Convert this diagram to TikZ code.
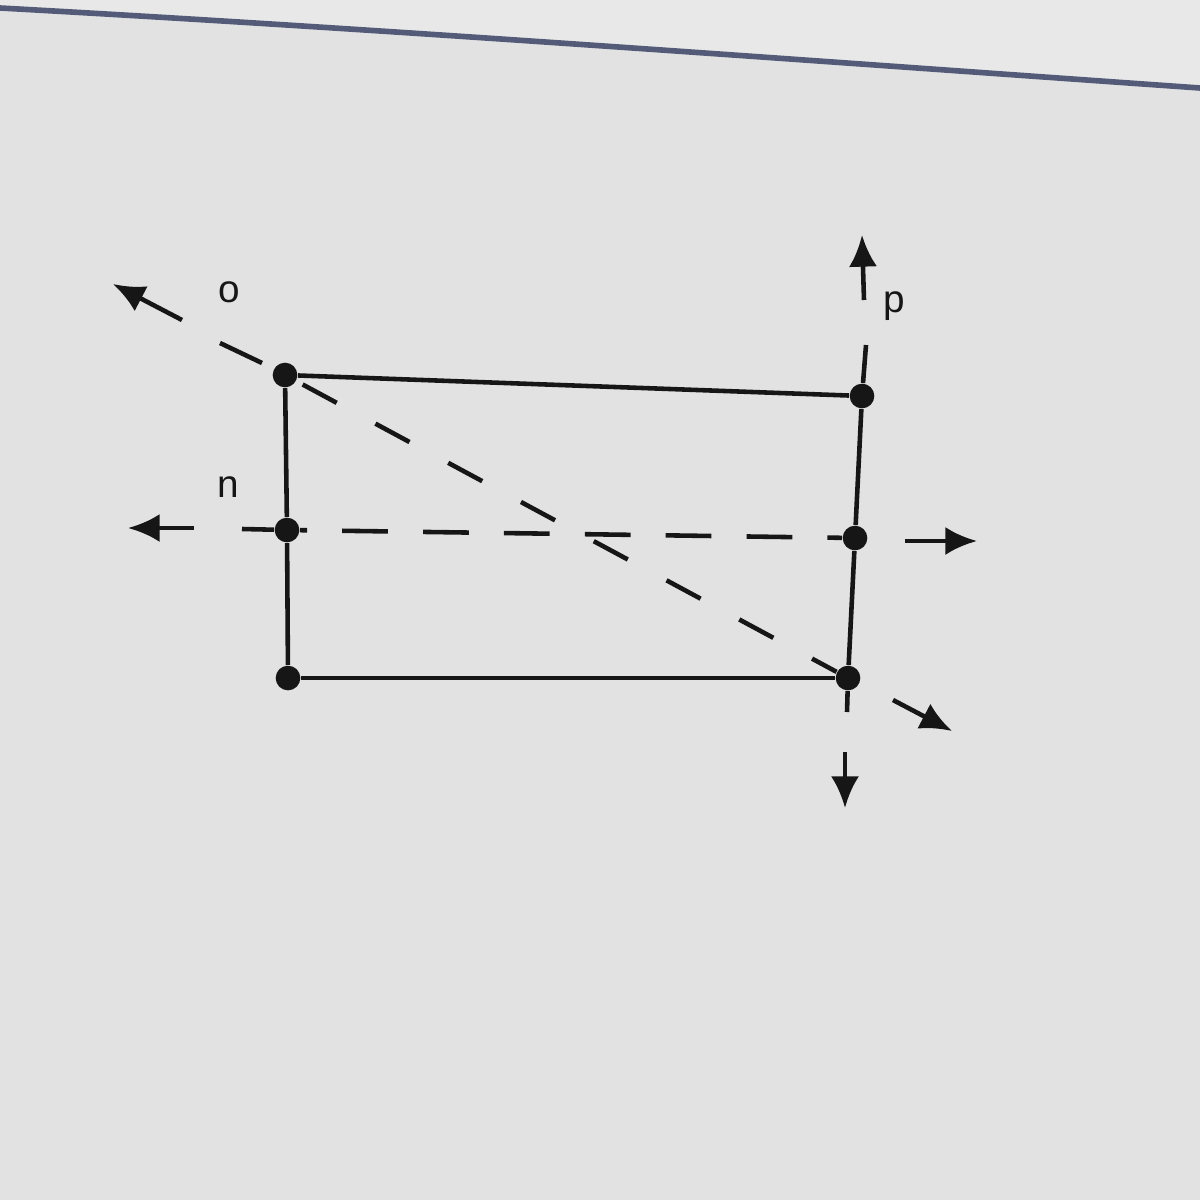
\documentclass[tikz,border=0pt]{standalone}
\usepackage{fontspec}
\setmainfont{Liberation Sans}
\usetikzlibrary{arrows.meta}
\definecolor{bgc}{HTML}{E2E2E2}
\definecolor{bgtop}{HTML}{E8E8E8}
\definecolor{ink}{HTML}{161616}
\definecolor{edgec}{HTML}{545B78}
\tikzset{
  seg/.style={draw=ink, line width=1.3pt},
  dsh/.style={draw=ink, line width=1.3pt, dash pattern=on 13pt off 10pt},
  ddsh/.style={draw=ink, line width=1.3pt, dash pattern=on 11pt off 12.5pt},
  arr/.style={draw=ink, line width=1.3pt, -{Latex[length=9pt,width=8pt]}},
  dot/.style={circle, fill=ink, inner sep=0pt, minimum size=7pt},
  lbl/.style={font=\fontsize{11}{13}\selectfont, text=ink}
}
\begin{document}
\begin{tikzpicture}[x=0.01cm,y=-0.01cm]
\fill[bgc] (0,0) rectangle (1200,1200);
\useasboundingbox (0,0) rectangle (1200,1200);
\fill[bgtop] (0,0) -- (0,8) .. controls (400,30) and (800,60) .. (1200,88) -- (1200,0) -- cycle;
\draw[edgec, line width=1.6pt] (0,8) .. controls (400,30) and (800,60) .. (1200,88);

% points
\node[dot] (A) at (285,375) {};
\node[dot] (B) at (862,396) {};
\node[dot] (C) at (287,530) {};
\node[dot] (D) at (855,538) {};
\node[dot] (E) at (288,678) {};
\node[dot] (F) at (848,678) {};

% rectangle
\draw[seg] (A) -- (B);
\draw[seg] (A) -- (C) -- (E);
\draw[seg] (E) -- (F);

% line p
\coordinate (p1) at (866,345);
\coordinate (p2) at (847,712);
\coordinate (pt0) at (864,300);
\coordinate (pt1) at (862,235);
\coordinate (pb0) at (845,752);
\coordinate (pb1) at (845,808);
\draw[seg] (p1) -- (B) -- (D) -- (F) -- (p2);
\draw[arr] (pt0) -- (pt1);
\draw[arr] (pb0) -- (pb1);

% line n
\coordinate (nl0) at (194,528);
\coordinate (nl1) at (128,528);
\coordinate (nl2) at (242,529);
\coordinate (nr0) at (905,541);
\coordinate (nr1) at (977,541);
\draw[seg] (nl2) -- (C);
\draw[dsh, dash phase=-12pt] (C) -- (D);
\draw[arr] (nl0) -- (nl1);
\draw[arr] (nr0) -- (nr1);

% line o
\coordinate (ol0) at (182,320);
\coordinate (ol1) at (113,284);
\coordinate (od0) at (220,343);
\coordinate (od1) at (262,363);
\coordinate (or0) at (893,700);
\coordinate (or1) at (952,731);
\draw[seg] (od0) -- (od1);
\draw[ddsh, dash phase=-2pt] (A) -- (F);
\draw[arr] (ol0) -- (ol1);
\draw[arr] (or0) -- (or1);

% labels
\node[lbl] (lo) at (229,292) {o};
\node[lbl] (ln) at (228,487) {n};
\node[lbl] (lp) at (894,306) {p};
\end{tikzpicture}
\end{document}
